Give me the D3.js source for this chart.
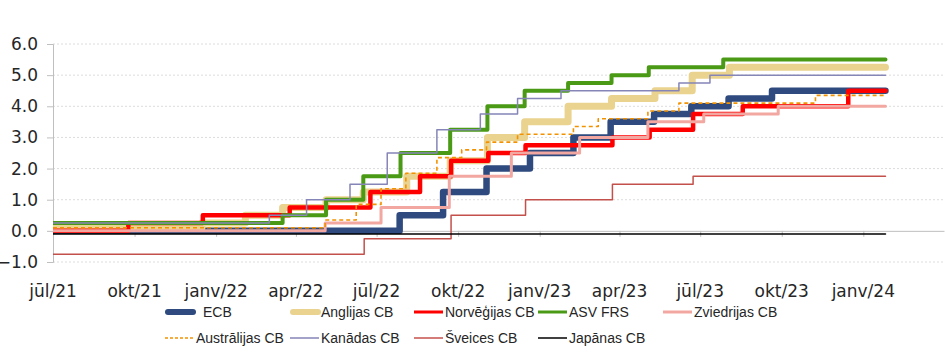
<!DOCTYPE html>
<html>
<head>
<meta charset="utf-8">
<script src="https://cdn.jsdelivr.net/npm/d3@7/dist/d3.min.js"></script>
<style>
  html, body { margin: 0; padding: 0; background: #fff; }
  svg { display: block; }
</style>
</head>
<body>
<svg id="chart" width="945" height="356"></svg>
<script>
// ---- DATA (change dates and rate levels, %) ----
const startDate = "2021-07-01";
const endDate = "2024-01-26";

const seriesNames = ["ECB", "Anglijas CB", "Norvēģijas CB", "ASV FRS", "Zviedrijas CB",
                     "Austrālijas CB", "Kanādas CB", "Šveices CB", "Japānas CB"];

const ecbDates = ["2021-07-01","2022-07-27","2022-09-14","2022-11-02","2022-12-21","2023-02-08","2023-03-22","2023-05-10","2023-06-21","2023-08-02","2023-09-20"];
const ecbValues = [0.0, 0.5, 1.25, 2.0, 2.5, 3.0, 3.5, 3.75, 4.0, 4.25, 4.5];

const boeDates = ["2021-07-01","2021-12-16","2022-02-03","2022-03-17","2022-05-05","2022-06-16","2022-08-04","2022-09-22","2022-11-03","2022-12-15","2023-02-02","2023-03-23","2023-05-11","2023-06-22","2023-08-03"];
const boeValues = [0.1, 0.25, 0.5, 0.75, 1.0, 1.25, 1.75, 2.25, 3.0, 3.5, 4.0, 4.25, 4.5, 5.0, 5.25];

const nbDates = ["2021-07-01","2021-09-24","2021-12-17","2022-03-25","2022-06-24","2022-08-19","2022-09-23","2022-11-04","2022-12-16","2023-03-24","2023-05-05","2023-06-23","2023-08-18","2023-12-15"];
const nbValues = [0.0, 0.25, 0.5, 0.75, 1.25, 1.75, 2.25, 2.5, 2.75, 3.0, 3.25, 3.75, 4.0, 4.5];

const fedDates = ["2021-07-01","2022-03-17","2022-05-05","2022-06-16","2022-07-28","2022-09-22","2022-11-03","2022-12-15","2023-02-02","2023-03-23","2023-05-04","2023-07-27"];
const fedValues = [0.25, 0.5, 1.0, 1.75, 2.5, 3.25, 4.0, 4.5, 4.75, 5.0, 5.25, 5.5];

const rbDates = ["2021-07-01","2022-05-04","2022-07-06","2022-09-21","2022-11-30","2023-02-15","2023-05-03","2023-07-05","2023-09-27"];
const rbValues = [0.0, 0.25, 0.75, 1.75, 2.5, 3.0, 3.5, 3.75, 4.0];

const rbaDates = ["2021-07-01","2022-05-04","2022-06-08","2022-07-06","2022-08-03","2022-09-07","2022-10-05","2022-11-02","2022-12-07","2023-02-08","2023-03-08","2023-05-03","2023-06-07","2023-11-08"];
const rbaValues = [0.1, 0.35, 0.85, 1.35, 1.85, 2.35, 2.6, 2.85, 3.1, 3.35, 3.6, 3.85, 4.1, 4.35];

const bocDates = ["2021-07-01","2022-03-02","2022-04-13","2022-06-01","2022-07-13","2022-09-07","2022-10-26","2022-12-07","2023-01-25","2023-06-07","2023-07-12"];
const bocValues = [0.25, 0.5, 1.0, 1.5, 2.5, 3.25, 3.75, 4.25, 4.5, 4.75, 5.0];

const snbDates = ["2021-07-01","2022-06-17","2022-09-23","2022-12-16","2023-03-24","2023-06-23"];
const snbValues = [-0.75, -0.25, 0.5, 1.0, 1.5, 1.75];

const bojDates = ["2021-07-01"];
const bojValues = [-0.1];

const xTickDates = ["2021-07-01","2021-10-01","2022-01-01","2022-04-01","2022-07-01","2022-10-01","2023-01-01","2023-04-01","2023-07-01","2023-10-01","2024-01-01"];
const xTickLabels = ["jūl/21","okt/21","janv/22","apr/22","jūl/22","okt/22","janv/23","apr/23","jūl/23","okt/23","janv/24"];
const yTicks = [-1, 0, 1, 2, 3, 4, 5, 6];

// ---- STYLE ----
const styles = [
  {color: "#2E4A7E", width: 6.5, dash: null},
  {color: "#EAD28F", width: 7,   dash: null},
  {color: "#FF0000", width: 4.5, dash: null},
  {color: "#4A9A16", width: 4,   dash: null},
  {color: "#F2A8A1", width: 3,   dash: null},
  {color: "#F39200", width: 1.6, dash: "4,3"},
  {color: "#8585B8", width: 1.5, dash: null},
  {color: "#C4504B", width: 1.5, dash: null},
  {color: "#000000", width: 1.5, dash: null}
];

const parse = d3.utcParse("%Y-%m-%d");
const allDates = [ecbDates, boeDates, nbDates, fedDates, rbDates, rbaDates, bocDates, snbDates, bojDates];
const allValues = [ecbValues, boeValues, nbValues, fedValues, rbValues, rbaValues, bocValues, snbValues, bojValues];

const series = seriesNames.map((name, i) => {
  const pts = allDates[i].map((d, j) => ({date: parse(d), value: allValues[i][j]}));
  pts.push({date: parse(endDate), value: allValues[i][allValues[i].length - 1]});
  return {name, pts, style: styles[i]};
});

const svg = d3.select("#chart");
const plotLeft = 53, plotRight = 944, plotTop = 44, plotBottom = 262;

const x = d3.scaleUtc().domain([parse(startDate), parse("2024-04-01")]).range([plotLeft, plotRight]);
const y = d3.scaleLinear().domain([-1, 6]).range([plotBottom, plotTop]);

// gridlines
svg.append("g").selectAll("line").data(yTicks.filter(v => v !== 0)).join("line")
  .attr("x1", plotLeft).attr("x2", plotRight)
  .attr("y1", d => y(d)).attr("y2", d => y(d))
  .attr("stroke", "#dcdcdc").attr("stroke-width", 1).attr("stroke-dasharray", "2,2");

// y axis
const yAxis = svg.append("g").attr("transform", `translate(${plotLeft},0)`)
  .call(d3.axisLeft(y).tickValues(yTicks).tickFormat(d3.format(".1f")).tickSize(6).tickPadding(9));
yAxis.select(".domain").attr("stroke", "#bfbfbf");
yAxis.selectAll(".tick line").attr("stroke", "#bfbfbf");
yAxis.selectAll(".tick text")
  .attr("font-family", "DejaVu Sans, sans-serif").attr("font-size", 17).attr("fill", "#262626");

// x axis at zero
const xAxis = svg.append("g").attr("transform", `translate(0,${y(0)})`)
  .call(d3.axisBottom(x).tickValues(xTickDates.map(parse)).tickFormat("").tickSize(6).tickSizeOuter(0));
xAxis.select(".domain").attr("stroke", "#bfbfbf");
xAxis.selectAll(".tick line").attr("stroke", "#bfbfbf");

// x labels (low position)
svg.append("g").selectAll("text").data(xTickDates).join("text")
  .attr("x", d => x(parse(d)))
  .attr("y", 297)
  .attr("text-anchor", "middle")
  .attr("font-family", "DejaVu Sans, sans-serif").attr("font-size", 17).attr("fill", "#262626")
  .text((d, i) => xTickLabels[i]);

// clip
svg.append("clipPath").attr("id", "plotclip").append("rect")
  .attr("x", plotLeft).attr("y", 0).attr("width", plotRight - plotLeft).attr("height", 300);

const line = d3.line().x(d => x(d.date)).y(d => y(d.value)).curve(d3.curveStepAfter);

svg.append("g").attr("clip-path", "url(#plotclip)")
  .selectAll("path").data(series).join("path")
  .attr("d", d => line(d.pts))
  .attr("fill", "none")
  .attr("stroke", d => d.style.color)
  .attr("stroke-width", d => d.style.width)
  .attr("stroke-dasharray", d => d.style.dash)
  .attr("stroke-linejoin", "round")
  .attr("stroke-linecap", d => d.style.dash ? "butt" : "round");

// legend
const legendCols = [165, 290, 414, 538, 663];
const legendRows = [312, 338];
const legend = svg.append("g").selectAll("g").data(series).join("g")
  .attr("transform", (d, i) => `translate(${legendCols[i % 5]},${legendRows[Math.floor(i / 5)]})`);
legend.append("line")
  .attr("x1", d => d.style.width > 5 ? 3 : 0)
  .attr("x2", d => d.style.width > 5 ? 28 : 29)
  .attr("y1", 0).attr("y2", 0)
  .attr("stroke", d => d.style.color)
  .attr("stroke-width", d => d.style.width > 5 ? 6 : (d.style.width > 2 ? 3 : 1.5))
  .attr("stroke-dasharray", d => d.style.dash ? "3,2" : null)
  .attr("stroke-linecap", d => d.style.width > 5 ? "round" : "butt");
legend.append("text")
  .attr("x", (d, i) => i === 0 ? 38 : 31)
  .attr("y", 0).attr("dy", "0.35em")
  .attr("font-family", "Liberation Sans, Arial, sans-serif").attr("font-size", 14).attr("fill", "#262626")
  .text(d => d.name);
</script>
</body>
</html>
